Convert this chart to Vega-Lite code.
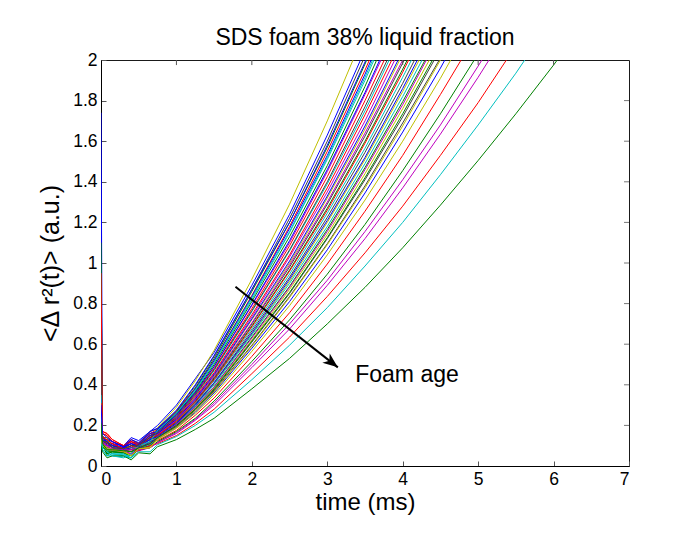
{
  "$schema": "https://vega.github.io/schema/vega-lite/v6.json",
  "width": 528,
  "height": 406,
  "autosize": "none",
  "padding": {"left": 101, "top": 60, "right": 60, "bottom": 91},
  "background": "white",
  "config": {
    "font": "Liberation Sans",
    "view": {"stroke": "#1a1a1a", "strokeWidth": 1},
    "axis": {"grid": false, "labelFont": "Liberation Sans", "titleFont": "Liberation Sans", "labelColor": "black", "titleColor": "black", "titleFontWeight": "normal", "labelFontSize": 17.5, "titleFontSize": 24, "domainColor": "black", "tickColor": "#555555", "tickSize": -5, "labelPadding": 9}
  },
  "title": {"text": "SDS foam 38% liquid fraction", "fontSize": 23, "fontWeight": "normal", "font": "Liberation Sans", "color": "black", "offset": 1, "anchor": "middle"},
  "datasets": {
    "curves": [
{"c":1,"t":0,"y":1.74},{"c":1,"t":0.02,"y":0.14},{"c":1,"t":0.15,"y":0.11},{"c":1,"t":0.3,"y":0.1},{"c":1,"t":0.5,"y":0.125},{"c":1,"t":0.75,"y":0.2},{"c":1,"t":1,"y":0.3},{"c":1,"t":1.25,"y":0.43},{"c":1,"t":1.5,"y":0.56},{"c":1,"t":2,"y":0.89},{"c":1,"t":2.5,"y":1.24},{"c":1,"t":3,"y":1.63},{"c":1,"t":3.5,"y":2.05},
{"c":2,"t":0,"y":0.22},{"c":2,"t":0.02,"y":0.12},{"c":2,"t":0.15,"y":0.09},{"c":2,"t":0.3,"y":0.07},{"c":2,"t":0.5,"y":0.11},{"c":2,"t":0.75,"y":0.18},{"c":2,"t":1,"y":0.265},{"c":2,"t":1.25,"y":0.385},{"c":2,"t":1.5,"y":0.53},{"c":2,"t":2,"y":0.86},{"c":2,"t":2.5,"y":1.2},{"c":2,"t":3,"y":1.57},{"c":2,"t":3.5,"y":1.98},{"c":2,"t":4,"y":2.42},
{"c":3,"t":0,"y":0.3},{"c":3,"t":0.02,"y":0.16},{"c":3,"t":0.15,"y":0.12},{"c":3,"t":0.3,"y":0.095},{"c":3,"t":0.5,"y":0.11},{"c":3,"t":0.75,"y":0.18},{"c":3,"t":1,"y":0.27},{"c":3,"t":1.25,"y":0.38},{"c":3,"t":1.5,"y":0.52},{"c":3,"t":2,"y":0.84},{"c":3,"t":2.5,"y":1.18},{"c":3,"t":3,"y":1.55},{"c":3,"t":3.5,"y":1.95},{"c":3,"t":4,"y":2.38},
{"c":4,"t":0,"y":0.83},{"c":4,"t":0.02,"y":0.1},{"c":4,"t":0.15,"y":0.07},{"c":4,"t":0.3,"y":0.06},{"c":4,"t":0.5,"y":0.1},{"c":4,"t":0.75,"y":0.175},{"c":4,"t":1,"y":0.255},{"c":4,"t":1.25,"y":0.37},{"c":4,"t":1.5,"y":0.51},{"c":4,"t":2,"y":0.82},{"c":4,"t":2.5,"y":1.15},{"c":4,"t":3,"y":1.51},{"c":4,"t":3.5,"y":1.9},{"c":4,"t":4,"y":2.32},
{"c":5,"t":0,"y":0.18},{"c":5,"t":0.02,"y":0.13},{"c":5,"t":0.15,"y":0.1},{"c":5,"t":0.3,"y":0.09},{"c":5,"t":0.5,"y":0.105},{"c":5,"t":0.75,"y":0.17},{"c":5,"t":1,"y":0.25},{"c":5,"t":1.25,"y":0.36},{"c":5,"t":1.5,"y":0.49},{"c":5,"t":2,"y":0.79},{"c":5,"t":2.5,"y":1.1},{"c":5,"t":3,"y":1.45},{"c":5,"t":3.5,"y":1.83},{"c":5,"t":4,"y":2.23},
{"c":6,"t":0,"y":0.12},{"c":6,"t":0.02,"y":0.11},{"c":6,"t":0.15,"y":0.09},{"c":6,"t":0.3,"y":0.085},{"c":6,"t":0.5,"y":0.115},{"c":6,"t":0.75,"y":0.19},{"c":6,"t":1,"y":0.29},{"c":6,"t":1.25,"y":0.42},{"c":6,"t":1.5,"y":0.57},{"c":6,"t":2,"y":0.92},{"c":6,"t":2.5,"y":1.29},{"c":6,"t":3,"y":1.7},{"c":6,"t":3.5,"y":2.14},
{"c":7,"t":0,"y":0.25},{"c":7,"t":0.02,"y":0.12},{"c":7,"t":0.15,"y":0.1},{"c":7,"t":0.3,"y":0.09},{"c":7,"t":0.5,"y":0.11},{"c":7,"t":0.75,"y":0.185},{"c":7,"t":1,"y":0.27},{"c":7,"t":1.25,"y":0.395},{"c":7,"t":1.5,"y":0.54},{"c":7,"t":2,"y":0.87},{"c":7,"t":2.5,"y":1.22},{"c":7,"t":3,"y":1.6},{"c":7,"t":3.5,"y":2.02},
{"c":8,"t":0,"y":1.03},{"c":8,"t":0.02,"y":0.15},{"c":8,"t":0.15,"y":0.11},{"c":8,"t":0.3,"y":0.08},{"c":8,"t":0.5,"y":0.11},{"c":8,"t":0.75,"y":0.18},{"c":8,"t":1,"y":0.26},{"c":8,"t":1.25,"y":0.38},{"c":8,"t":1.5,"y":0.52},{"c":8,"t":2,"y":0.835},{"c":8,"t":2.5,"y":1.17},{"c":8,"t":3,"y":1.53},{"c":8,"t":3.5,"y":1.93},{"c":8,"t":4,"y":2.36},
{"c":9,"t":0,"y":1.1},{"c":9,"t":0.02,"y":0.13},{"c":9,"t":0.15,"y":0.08},{"c":9,"t":0.3,"y":0.075},{"c":9,"t":0.5,"y":0.105},{"c":9,"t":0.75,"y":0.17},{"c":9,"t":1,"y":0.255},{"c":9,"t":1.25,"y":0.365},{"c":9,"t":1.5,"y":0.5},{"c":9,"t":2,"y":0.81},{"c":9,"t":2.5,"y":1.13},{"c":9,"t":3,"y":1.48},{"c":9,"t":3.5,"y":1.87},{"c":9,"t":4,"y":2.29},
{"c":10,"t":0,"y":0.95},{"c":10,"t":0.02,"y":0.17},{"c":10,"t":0.15,"y":0.13},{"c":10,"t":0.3,"y":0.1},{"c":10,"t":0.5,"y":0.11},{"c":10,"t":0.75,"y":0.165},{"c":10,"t":1,"y":0.245},{"c":10,"t":1.25,"y":0.355},{"c":10,"t":1.5,"y":0.48},{"c":10,"t":2,"y":0.775},{"c":10,"t":2.5,"y":1.085},{"c":10,"t":3,"y":1.425},{"c":10,"t":3.5,"y":1.8},{"c":10,"t":4,"y":2.19},
{"c":11,"t":0,"y":0.15},{"c":11,"t":0.02,"y":0.09},{"c":11,"t":0.15,"y":0.06},{"c":11,"t":0.3,"y":0.05},{"c":11,"t":0.5,"y":0.09},{"c":11,"t":0.75,"y":0.165},{"c":11,"t":1,"y":0.24},{"c":11,"t":1.25,"y":0.345},{"c":11,"t":1.5,"y":0.47},{"c":11,"t":2,"y":0.76},{"c":11,"t":2.5,"y":1.06},{"c":11,"t":3,"y":1.39},{"c":11,"t":3.5,"y":1.75},{"c":11,"t":4,"y":2.14},
{"c":12,"t":0,"y":0.2},{"c":12,"t":0.02,"y":0.12},{"c":12,"t":0.15,"y":0.09},{"c":12,"t":0.3,"y":0.08},{"c":12,"t":0.5,"y":0.1},{"c":12,"t":0.75,"y":0.16},{"c":12,"t":1,"y":0.235},{"c":12,"t":1.25,"y":0.335},{"c":12,"t":1.5,"y":0.455},{"c":12,"t":2,"y":0.735},{"c":12,"t":2.5,"y":1.03},{"c":12,"t":3,"y":1.35},{"c":12,"t":3.5,"y":1.7},{"c":12,"t":4,"y":2.08},
{"c":13,"t":0,"y":0.14},{"c":13,"t":0.02,"y":0.1},{"c":13,"t":0.15,"y":0.08},{"c":13,"t":0.3,"y":0.07},{"c":13,"t":0.5,"y":0.095},{"c":13,"t":0.75,"y":0.155},{"c":13,"t":1,"y":0.23},{"c":13,"t":1.25,"y":0.325},{"c":13,"t":1.5,"y":0.445},{"c":13,"t":2,"y":0.72},{"c":13,"t":2.5,"y":1.0},{"c":13,"t":3,"y":1.32},{"c":13,"t":3.5,"y":1.66},{"c":13,"t":4,"y":2.03},
{"c":14,"t":0,"y":0.28},{"c":14,"t":0.02,"y":0.14},{"c":14,"t":0.15,"y":0.1},{"c":14,"t":0.3,"y":0.085},{"c":14,"t":0.5,"y":0.1},{"c":14,"t":0.75,"y":0.155},{"c":14,"t":1,"y":0.225},{"c":14,"t":1.25,"y":0.32},{"c":14,"t":1.5,"y":0.435},{"c":14,"t":2,"y":0.7},{"c":14,"t":2.5,"y":0.98},{"c":14,"t":3,"y":1.29},{"c":14,"t":3.5,"y":1.625},{"c":14,"t":4,"y":1.985},{"c":14,"t":4.5,"y":2.37},
{"c":15,"t":0,"y":0.33},{"c":15,"t":0.02,"y":0.15},{"c":15,"t":0.15,"y":0.11},{"c":15,"t":0.3,"y":0.09},{"c":15,"t":0.5,"y":0.105},{"c":15,"t":0.75,"y":0.17},{"c":15,"t":1,"y":0.25},{"c":15,"t":1.25,"y":0.36},{"c":15,"t":1.5,"y":0.49},{"c":15,"t":2,"y":0.795},{"c":15,"t":2.5,"y":1.11},{"c":15,"t":3,"y":1.46},{"c":15,"t":3.5,"y":1.84},{"c":15,"t":4,"y":2.25},
{"c":16,"t":0,"y":0.16},{"c":16,"t":0.02,"y":0.11},{"c":16,"t":0.15,"y":0.07},{"c":16,"t":0.3,"y":0.065},{"c":16,"t":0.5,"y":0.095},{"c":16,"t":0.75,"y":0.15},{"c":16,"t":1,"y":0.22},{"c":16,"t":1.25,"y":0.315},{"c":16,"t":1.5,"y":0.43},{"c":16,"t":2,"y":0.69},{"c":16,"t":2.5,"y":0.965},{"c":16,"t":3,"y":1.27},{"c":16,"t":3.5,"y":1.6},{"c":16,"t":4,"y":1.955},{"c":16,"t":4.5,"y":2.33},
{"c":17,"t":0,"y":0.24},{"c":17,"t":0.02,"y":0.16},{"c":17,"t":0.15,"y":0.12},{"c":17,"t":0.3,"y":0.1},{"c":17,"t":0.5,"y":0.1},{"c":17,"t":0.75,"y":0.16},{"c":17,"t":1,"y":0.235},{"c":17,"t":1.25,"y":0.34},{"c":17,"t":1.5,"y":0.46},{"c":17,"t":2,"y":0.745},{"c":17,"t":2.5,"y":1.04},{"c":17,"t":3,"y":1.37},{"c":17,"t":3.5,"y":1.73},{"c":17,"t":4,"y":2.11},
{"c":18,"t":0,"y":0.35},{"c":18,"t":0.02,"y":0.08},{"c":18,"t":0.15,"y":0.05},{"c":18,"t":0.3,"y":0.045},{"c":18,"t":0.5,"y":0.085},{"c":18,"t":0.75,"y":0.15},{"c":18,"t":1,"y":0.215},{"c":18,"t":1.25,"y":0.31},{"c":18,"t":1.5,"y":0.42},{"c":18,"t":2,"y":0.675},{"c":18,"t":2.5,"y":0.945},{"c":18,"t":3,"y":1.245},{"c":18,"t":3.5,"y":1.565},{"c":18,"t":4,"y":1.915},{"c":18,"t":4.5,"y":2.28},
{"c":19,"t":0,"y":0.19},{"c":19,"t":0.02,"y":0.1},{"c":19,"t":0.15,"y":0.08},{"c":19,"t":0.3,"y":0.08},{"c":19,"t":0.5,"y":0.1},{"c":19,"t":0.75,"y":0.155},{"c":19,"t":1,"y":0.225},{"c":19,"t":1.25,"y":0.325},{"c":19,"t":1.5,"y":0.44},{"c":19,"t":2,"y":0.705},{"c":19,"t":2.5,"y":0.99},{"c":19,"t":3,"y":1.3},{"c":19,"t":3.5,"y":1.64},{"c":19,"t":4,"y":2.0},{"c":19,"t":4.5,"y":2.39},
{"c":20,"t":0,"y":0.13},{"c":20,"t":0.02,"y":0.12},{"c":20,"t":0.15,"y":0.09},{"c":20,"t":0.3,"y":0.08},{"c":20,"t":0.5,"y":0.09},{"c":20,"t":0.75,"y":0.145},{"c":20,"t":1,"y":0.21},{"c":20,"t":1.25,"y":0.3},{"c":20,"t":1.5,"y":0.405},{"c":20,"t":2,"y":0.65},{"c":20,"t":2.5,"y":0.91},{"c":20,"t":3,"y":1.2},{"c":20,"t":3.5,"y":1.51},{"c":20,"t":4,"y":1.845},{"c":20,"t":4.5,"y":2.2},
{"c":21,"t":0,"y":0.21},{"c":21,"t":0.02,"y":0.11},{"c":21,"t":0.15,"y":0.08},{"c":21,"t":0.3,"y":0.075},{"c":21,"t":0.5,"y":0.095},{"c":21,"t":0.75,"y":0.15},{"c":21,"t":1,"y":0.215},{"c":21,"t":1.25,"y":0.305},{"c":21,"t":1.5,"y":0.41},{"c":21,"t":2,"y":0.665},{"c":21,"t":2.5,"y":0.93},{"c":21,"t":3,"y":1.225},{"c":21,"t":3.5,"y":1.545},{"c":21,"t":4,"y":1.885},{"c":21,"t":4.5,"y":2.25},
{"c":22,"t":0,"y":0.26},{"c":22,"t":0.02,"y":0.13},{"c":22,"t":0.15,"y":0.12},{"c":22,"t":0.3,"y":0.095},{"c":22,"t":0.5,"y":0.1},{"c":22,"t":0.75,"y":0.16},{"c":22,"t":1,"y":0.23},{"c":22,"t":1.25,"y":0.33},{"c":22,"t":1.5,"y":0.45},{"c":22,"t":2,"y":0.725},{"c":22,"t":2.5,"y":1.01},{"c":22,"t":3,"y":1.33},{"c":22,"t":3.5,"y":1.675},{"c":22,"t":4,"y":2.045},
{"c":23,"t":0,"y":0.17},{"c":23,"t":0.02,"y":0.1},{"c":23,"t":0.15,"y":0.07},{"c":23,"t":0.3,"y":0.07},{"c":23,"t":0.5,"y":0.09},{"c":23,"t":0.75,"y":0.14},{"c":23,"t":1,"y":0.205},{"c":23,"t":1.25,"y":0.29},{"c":23,"t":1.5,"y":0.39},{"c":23,"t":2,"y":0.635},{"c":23,"t":2.5,"y":0.885},{"c":23,"t":3,"y":1.165},{"c":23,"t":3.5,"y":1.47},{"c":23,"t":4,"y":1.795},{"c":23,"t":4.5,"y":2.14},
{"c":24,"t":0,"y":0.29},{"c":24,"t":0.02,"y":0.15},{"c":24,"t":0.15,"y":0.11},{"c":24,"t":0.3,"y":0.085},{"c":24,"t":0.5,"y":0.08},{"c":24,"t":0.75,"y":0.125},{"c":24,"t":1,"y":0.175},{"c":24,"t":1.25,"y":0.25},{"c":24,"t":1.5,"y":0.335},{"c":24,"t":2,"y":0.54},{"c":24,"t":2.5,"y":0.755},{"c":24,"t":3,"y":0.995},{"c":24,"t":3.5,"y":1.255},{"c":24,"t":4,"y":1.53},{"c":24,"t":4.5,"y":1.83},{"c":24,"t":5,"y":2.14},
{"c":25,"t":0,"y":0.11},{"c":25,"t":0.02,"y":0.09},{"c":25,"t":0.15,"y":0.06},{"c":25,"t":0.3,"y":0.055},{"c":25,"t":0.5,"y":0.09},{"c":25,"t":0.75,"y":0.145},{"c":25,"t":1,"y":0.205},{"c":25,"t":1.25,"y":0.295},{"c":25,"t":1.5,"y":0.4},{"c":25,"t":2,"y":0.645},{"c":25,"t":2.5,"y":0.9},{"c":25,"t":3,"y":1.18},{"c":25,"t":3.5,"y":1.49},{"c":25,"t":4,"y":1.82},{"c":25,"t":4.5,"y":2.17},
{"c":26,"t":0,"y":0.18},{"c":26,"t":0.02,"y":0.11},{"c":26,"t":0.15,"y":0.08},{"c":26,"t":0.3,"y":0.07},{"c":26,"t":0.5,"y":0.075},{"c":26,"t":0.75,"y":0.115},{"c":26,"t":1,"y":0.165},{"c":26,"t":1.25,"y":0.23},{"c":26,"t":1.5,"y":0.31},{"c":26,"t":2,"y":0.5},{"c":26,"t":2.5,"y":0.7},{"c":26,"t":3,"y":0.915},{"c":26,"t":3.5,"y":1.155},{"c":26,"t":4,"y":1.41},{"c":26,"t":4.5,"y":1.68},{"c":26,"t":5,"y":1.97},{"c":26,"t":5.5,"y":2.27},
{"c":27,"t":0,"y":0.23},{"c":27,"t":0.02,"y":0.13},{"c":27,"t":0.15,"y":0.09},{"c":27,"t":0.3,"y":0.085},{"c":27,"t":0.5,"y":0.09},{"c":27,"t":0.75,"y":0.14},{"c":27,"t":1,"y":0.2},{"c":27,"t":1.25,"y":0.285},{"c":27,"t":1.5,"y":0.385},{"c":27,"t":2,"y":0.62},{"c":27,"t":2.5,"y":0.87},{"c":27,"t":3,"y":1.14},{"c":27,"t":3.5,"y":1.44},{"c":27,"t":4,"y":1.76},{"c":27,"t":4.5,"y":2.1},
{"c":28,"t":0,"y":0.2},{"c":28,"t":0.02,"y":0.12},{"c":28,"t":0.15,"y":0.1},{"c":28,"t":0.3,"y":0.08},{"c":28,"t":0.5,"y":0.085},{"c":28,"t":0.75,"y":0.135},{"c":28,"t":1,"y":0.195},{"c":28,"t":1.25,"y":0.275},{"c":28,"t":1.5,"y":0.37},{"c":28,"t":2,"y":0.595},{"c":28,"t":2.5,"y":0.835},{"c":28,"t":3,"y":1.095},{"c":28,"t":3.5,"y":1.38},{"c":28,"t":4,"y":1.69},{"c":28,"t":4.5,"y":2.01},
{"c":29,"t":0,"y":0.27},{"c":29,"t":0.02,"y":0.14},{"c":29,"t":0.15,"y":0.1},{"c":29,"t":0.3,"y":0.09},{"c":29,"t":0.5,"y":0.095},{"c":29,"t":0.75,"y":0.145},{"c":29,"t":1,"y":0.21},{"c":29,"t":1.25,"y":0.3},{"c":29,"t":1.5,"y":0.41},{"c":29,"t":2,"y":0.655},{"c":29,"t":2.5,"y":0.92},{"c":29,"t":3,"y":1.21},{"c":29,"t":3.5,"y":1.52},{"c":29,"t":4,"y":1.86},{"c":29,"t":4.5,"y":2.22},
{"c":30,"t":0,"y":0.15},{"c":30,"t":0.02,"y":0.1},{"c":30,"t":0.15,"y":0.07},{"c":30,"t":0.3,"y":0.065},{"c":30,"t":0.5,"y":0.08},{"c":30,"t":0.75,"y":0.12},{"c":30,"t":1,"y":0.17},{"c":30,"t":1.25,"y":0.235},{"c":30,"t":1.5,"y":0.32},{"c":30,"t":2,"y":0.515},{"c":30,"t":2.5,"y":0.72},{"c":30,"t":3,"y":0.945},{"c":30,"t":3.5,"y":1.19},{"c":30,"t":4,"y":1.455},{"c":30,"t":4.5,"y":1.735},{"c":30,"t":5,"y":2.03},
{"c":31,"t":0,"y":0.22},{"c":31,"t":0.02,"y":0.14},{"c":31,"t":0.15,"y":0.11},{"c":31,"t":0.3,"y":0.085},{"c":31,"t":0.5,"y":0.075},{"c":31,"t":0.75,"y":0.11},{"c":31,"t":1,"y":0.15},{"c":31,"t":1.25,"y":0.21},{"c":31,"t":1.5,"y":0.28},{"c":31,"t":2,"y":0.455},{"c":31,"t":2.5,"y":0.635},{"c":31,"t":3,"y":0.835},{"c":31,"t":3.5,"y":1.05},{"c":31,"t":4,"y":1.28},{"c":31,"t":4.5,"y":1.53},{"c":31,"t":5,"y":1.79},{"c":31,"t":5.5,"y":2.07},
{"c":32,"t":0,"y":0.12},{"c":32,"t":0.02,"y":0.08},{"c":32,"t":0.15,"y":0.06},{"c":32,"t":0.3,"y":0.06},{"c":32,"t":0.5,"y":0.07},{"c":32,"t":0.75,"y":0.105},{"c":32,"t":1,"y":0.145},{"c":32,"t":1.25,"y":0.2},{"c":32,"t":1.5,"y":0.265},{"c":32,"t":2,"y":0.425},{"c":32,"t":2.5,"y":0.595},{"c":32,"t":3,"y":0.78},{"c":32,"t":3.5,"y":0.985},{"c":32,"t":4,"y":1.2},{"c":32,"t":4.5,"y":1.435},{"c":32,"t":5,"y":1.68},{"c":32,"t":5.5,"y":1.935},{"c":32,"t":6,"y":2.21},
{"c":33,"t":0,"y":0.16},{"c":33,"t":0.02,"y":0.11},{"c":33,"t":0.15,"y":0.08},{"c":33,"t":0.3,"y":0.075},{"c":33,"t":0.5,"y":0.08},{"c":33,"t":0.75,"y":0.115},{"c":33,"t":1,"y":0.16},{"c":33,"t":1.25,"y":0.225},{"c":33,"t":1.5,"y":0.3},{"c":33,"t":2,"y":0.485},{"c":33,"t":2.5,"y":0.675},{"c":33,"t":3,"y":0.89},{"c":33,"t":3.5,"y":1.12},{"c":33,"t":4,"y":1.37},{"c":33,"t":4.5,"y":1.635},{"c":33,"t":5,"y":1.915},{"c":33,"t":5.5,"y":2.21},
{"c":34,"t":0,"y":0.14},{"c":34,"t":0.02,"y":0.1},{"c":34,"t":0.15,"y":0.08},{"c":34,"t":0.3,"y":0.07},{"c":34,"t":0.5,"y":0.085},{"c":34,"t":0.75,"y":0.13},{"c":34,"t":1,"y":0.185},{"c":34,"t":1.25,"y":0.26},{"c":34,"t":1.5,"y":0.35},{"c":34,"t":2,"y":0.565},{"c":34,"t":2.5,"y":0.79},{"c":34,"t":3,"y":1.04},{"c":34,"t":3.5,"y":1.31},{"c":34,"t":4,"y":1.6},{"c":34,"t":4.5,"y":1.91},{"c":34,"t":5,"y":2.24},
{"c":35,"t":0,"y":0.19},{"c":35,"t":0.02,"y":0.12},{"c":35,"t":0.15,"y":0.09},{"c":35,"t":0.3,"y":0.08},{"c":35,"t":0.5,"y":0.09},{"c":35,"t":0.75,"y":0.14},{"c":35,"t":1,"y":0.195},{"c":35,"t":1.25,"y":0.28},{"c":35,"t":1.5,"y":0.375},{"c":35,"t":2,"y":0.61},{"c":35,"t":2.5,"y":0.85},{"c":35,"t":3,"y":1.12},{"c":35,"t":3.5,"y":1.41},{"c":35,"t":4,"y":1.72},{"c":35,"t":4.5,"y":2.055},
{"c":36,"t":0,"y":0.24},{"c":36,"t":0.02,"y":0.13},{"c":36,"t":0.15,"y":0.09},{"c":36,"t":0.3,"y":0.08},{"c":36,"t":0.5,"y":0.085},{"c":36,"t":0.75,"y":0.135},{"c":36,"t":1,"y":0.19},{"c":36,"t":1.25,"y":0.265},{"c":36,"t":1.5,"y":0.36},{"c":36,"t":2,"y":0.58},{"c":36,"t":2.5,"y":0.81},{"c":36,"t":3,"y":1.065},{"c":36,"t":3.5,"y":1.345},{"c":36,"t":4,"y":1.645},{"c":36,"t":4.5,"y":1.96},{"c":36,"t":5,"y":2.3},
{"c":37,"t":0,"y":0.1},{"c":37,"t":0.02,"y":0.07},{"c":37,"t":0.15,"y":0.05},{"c":37,"t":0.3,"y":0.05},{"c":37,"t":0.5,"y":0.065},{"c":37,"t":0.75,"y":0.095},{"c":37,"t":1,"y":0.13},{"c":37,"t":1.25,"y":0.18},{"c":37,"t":1.5,"y":0.235},{"c":37,"t":2,"y":0.38},{"c":37,"t":2.5,"y":0.53},{"c":37,"t":3,"y":0.7},{"c":37,"t":3.5,"y":0.88},{"c":37,"t":4,"y":1.075},{"c":37,"t":4.5,"y":1.285},{"c":37,"t":5,"y":1.505},{"c":37,"t":5.5,"y":1.735},{"c":37,"t":6,"y":1.975},{"c":37,"t":6.5,"y":2.23},
{"c":38,"t":0,"y":0.31},{"c":38,"t":0.02,"y":0.17},{"c":38,"t":0.15,"y":0.13},{"c":38,"t":0.3,"y":0.1},{"c":38,"t":0.5,"y":0.1},{"c":38,"t":0.75,"y":0.15},{"c":38,"t":1,"y":0.22},{"c":38,"t":1.25,"y":0.315},{"c":38,"t":1.5,"y":0.425},{"c":38,"t":2,"y":0.685},{"c":38,"t":2.5,"y":0.96},{"c":38,"t":3,"y":1.26},{"c":38,"t":3.5,"y":1.59},{"c":38,"t":4,"y":1.94},{"c":38,"t":4.5,"y":2.32},
{"c":39,"t":0,"y":0.26},{"c":39,"t":0.02,"y":0.09},{"c":39,"t":0.15,"y":0.05},{"c":39,"t":0.3,"y":0.04},{"c":39,"t":0.5,"y":0.1},{"c":39,"t":0.75,"y":0.175},{"c":39,"t":1,"y":0.26},{"c":39,"t":1.25,"y":0.375},{"c":39,"t":1.5,"y":0.51},{"c":39,"t":2,"y":0.83},{"c":39,"t":2.5,"y":1.155},{"c":39,"t":3,"y":1.52},{"c":39,"t":3.5,"y":1.915},{"c":39,"t":4,"y":2.34},
{"c":40,"t":0,"y":0.17},{"c":40,"t":0.02,"y":0.12},{"c":40,"t":0.15,"y":0.09},{"c":40,"t":0.3,"y":0.08},{"c":40,"t":0.5,"y":0.09},{"c":40,"t":0.75,"y":0.14},{"c":40,"t":1,"y":0.205},{"c":40,"t":1.25,"y":0.29},{"c":40,"t":1.5,"y":0.39},{"c":40,"t":2,"y":0.63},{"c":40,"t":2.5,"y":0.88},{"c":40,"t":3,"y":1.155},{"c":40,"t":3.5,"y":1.46},{"c":40,"t":4,"y":1.78},{"c":40,"t":4.5,"y":2.13},
{"c":41,"t":0,"y":0.13},{"c":41,"t":0.02,"y":0.11},{"c":41,"t":0.15,"y":0.08},{"c":41,"t":0.3,"y":0.075},{"c":41,"t":0.5,"y":0.085},{"c":41,"t":0.75,"y":0.135},{"c":41,"t":1,"y":0.19},{"c":41,"t":1.25,"y":0.27},{"c":41,"t":1.5,"y":0.365},{"c":41,"t":2,"y":0.59},{"c":41,"t":2.5,"y":0.83},{"c":41,"t":3,"y":1.09},{"c":41,"t":3.5,"y":1.37},{"c":41,"t":4,"y":1.675},{"c":41,"t":4.5,"y":2.0},{"c":41,"t":5,"y":2.34},
{"c":42,"t":0,"y":0.22},{"c":42,"t":0.02,"y":0.12},{"c":42,"t":0.15,"y":0.09},{"c":42,"t":0.3,"y":0.085},{"c":42,"t":0.5,"y":0.1},{"c":42,"t":0.75,"y":0.165},{"c":42,"t":1,"y":0.24},{"c":42,"t":1.25,"y":0.35},{"c":42,"t":1.5,"y":0.475},{"c":42,"t":2,"y":0.765},{"c":42,"t":2.5,"y":1.065},{"c":42,"t":3,"y":1.4},{"c":42,"t":3.5,"y":1.77},{"c":42,"t":4,"y":2.16},
{"c":43,"t":0,"y":0.3},{"c":43,"t":0.02,"y":0.16},{"c":43,"t":0.15,"y":0.12},{"c":43,"t":0.3,"y":0.095},{"c":43,"t":0.5,"y":0.115},{"c":43,"t":0.75,"y":0.185},{"c":43,"t":1,"y":0.275},{"c":43,"t":1.25,"y":0.4},{"c":43,"t":1.5,"y":0.545},{"c":43,"t":2,"y":0.87},{"c":43,"t":2.5,"y":1.2},{"c":43,"t":3,"y":1.58},{"c":43,"t":3.5,"y":1.99},{"c":43,"t":4,"y":2.43},
{"c":44,"t":0,"y":0.21},{"c":44,"t":0.02,"y":0.11},{"c":44,"t":0.15,"y":0.08},{"c":44,"t":0.3,"y":0.075},{"c":44,"t":0.5,"y":0.09},{"c":44,"t":0.75,"y":0.14},{"c":44,"t":1,"y":0.2},{"c":44,"t":1.25,"y":0.28},{"c":44,"t":1.5,"y":0.38},{"c":44,"t":2,"y":0.615},{"c":44,"t":2.5,"y":0.855},{"c":44,"t":3,"y":1.125},{"c":44,"t":3.5,"y":1.42},{"c":44,"t":4,"y":1.735},{"c":44,"t":4.5,"y":2.07},
{"c":1,"t":0.08,"y":0.12},{"c":2,"t":0.08,"y":0.06},{"c":3,"t":0.08,"y":0.15},{"c":4,"t":0.08,"y":0.09},{"c":5,"t":0.08,"y":0.11},{"c":6,"t":0.08,"y":0.07},{"c":7,"t":0.08,"y":0.13},{"c":8,"t":0.08,"y":0.1},{"c":9,"t":0.08,"y":0.05},{"c":10,"t":0.08,"y":0.16},{"c":11,"t":0.08,"y":0.08},
{"c":12,"t":0.08,"y":0.12},{"c":13,"t":0.08,"y":0.06},{"c":14,"t":0.08,"y":0.14},{"c":15,"t":0.08,"y":0.1},{"c":16,"t":0.08,"y":0.07},{"c":17,"t":0.08,"y":0.15},{"c":18,"t":0.08,"y":0.05},{"c":19,"t":0.08,"y":0.09},{"c":20,"t":0.08,"y":0.12},{"c":21,"t":0.08,"y":0.08},{"c":22,"t":0.08,"y":0.13},
{"c":23,"t":0.08,"y":0.06},{"c":24,"t":0.08,"y":0.11},{"c":25,"t":0.08,"y":0.07},{"c":26,"t":0.08,"y":0.1},{"c":27,"t":0.08,"y":0.14},{"c":28,"t":0.08,"y":0.09},{"c":29,"t":0.08,"y":0.12},{"c":30,"t":0.08,"y":0.06},{"c":31,"t":0.08,"y":0.13},{"c":32,"t":0.08,"y":0.05},{"c":33,"t":0.08,"y":0.1},
{"c":34,"t":0.08,"y":0.08},{"c":35,"t":0.08,"y":0.11},{"c":36,"t":0.08,"y":0.12},{"c":37,"t":0.08,"y":0.04},{"c":38,"t":0.08,"y":0.16},{"c":39,"t":0.08,"y":0.07},{"c":40,"t":0.08,"y":0.1},{"c":41,"t":0.08,"y":0.09},{"c":42,"t":0.08,"y":0.12},{"c":43,"t":0.08,"y":0.14},{"c":44,"t":0.08,"y":0.08},
{"c":1,"t":0.4,"y":0.14},{"c":2,"t":0.4,"y":0.06},{"c":3,"t":0.4,"y":0.12},{"c":4,"t":0.4,"y":0.05},{"c":5,"t":0.4,"y":0.11},{"c":6,"t":0.4,"y":0.08},{"c":7,"t":0.4,"y":0.13},{"c":8,"t":0.4,"y":0.07},{"c":9,"t":0.4,"y":0.1},{"c":10,"t":0.4,"y":0.13},{"c":11,"t":0.4,"y":0.04},
{"c":12,"t":0.4,"y":0.09},{"c":13,"t":0.4,"y":0.06},{"c":14,"t":0.4,"y":0.11},{"c":15,"t":0.4,"y":0.12},{"c":16,"t":0.4,"y":0.05},{"c":17,"t":0.4,"y":0.12},{"c":18,"t":0.4,"y":0.04},{"c":19,"t":0.4,"y":0.09},{"c":20,"t":0.4,"y":0.07},{"c":21,"t":0.4,"y":0.1},{"c":22,"t":0.4,"y":0.11},
{"c":23,"t":0.4,"y":0.05},{"c":24,"t":0.4,"y":0.1},{"c":25,"t":0.4,"y":0.04},{"c":26,"t":0.4,"y":0.06},{"c":27,"t":0.4,"y":0.09},{"c":28,"t":0.4,"y":0.07},{"c":29,"t":0.4,"y":0.11},{"c":30,"t":0.4,"y":0.05},{"c":31,"t":0.4,"y":0.08},{"c":32,"t":0.4,"y":0.04},{"c":33,"t":0.4,"y":0.06},
{"c":34,"t":0.4,"y":0.05},{"c":35,"t":0.4,"y":0.08},{"c":36,"t":0.4,"y":0.09},{"c":37,"t":0.4,"y":0.03},{"c":38,"t":0.4,"y":0.12},{"c":39,"t":0.4,"y":0.06},{"c":40,"t":0.4,"y":0.08},{"c":41,"t":0.4,"y":0.05},{"c":42,"t":0.4,"y":0.1},{"c":43,"t":0.4,"y":0.13},{"c":44,"t":0.4,"y":0.07},
{"c":1,"t":0.65,"y":0.17},{"c":2,"t":0.65,"y":0.13},{"c":3,"t":0.65,"y":0.16},{"c":4,"t":0.65,"y":0.12},{"c":5,"t":0.65,"y":0.15},{"c":6,"t":0.65,"y":0.14},{"c":7,"t":0.65,"y":0.17},{"c":8,"t":0.65,"y":0.13},{"c":9,"t":0.65,"y":0.15},{"c":10,"t":0.65,"y":0.16},{"c":11,"t":0.65,"y":0.11},
{"c":12,"t":0.65,"y":0.14},{"c":13,"t":0.65,"y":0.12},{"c":14,"t":0.65,"y":0.14},{"c":15,"t":0.65,"y":0.16},{"c":16,"t":0.65,"y":0.11},{"c":17,"t":0.65,"y":0.15},{"c":18,"t":0.65,"y":0.1},{"c":19,"t":0.65,"y":0.13},{"c":20,"t":0.65,"y":0.11},{"c":21,"t":0.65,"y":0.13},{"c":22,"t":0.65,"y":0.15},
{"c":23,"t":0.65,"y":0.1},{"c":24,"t":0.65,"y":0.12},{"c":25,"t":0.65,"y":0.1},{"c":26,"t":0.65,"y":0.09},{"c":27,"t":0.65,"y":0.12},{"c":28,"t":0.65,"y":0.1},{"c":29,"t":0.65,"y":0.13},{"c":30,"t":0.65,"y":0.09},{"c":31,"t":0.65,"y":0.1},{"c":32,"t":0.65,"y":0.07},{"c":33,"t":0.65,"y":0.09},
{"c":34,"t":0.65,"y":0.09},{"c":35,"t":0.65,"y":0.11},{"c":36,"t":0.65,"y":0.12},{"c":37,"t":0.65,"y":0.06},{"c":38,"t":0.65,"y":0.14},{"c":39,"t":0.65,"y":0.12},{"c":40,"t":0.65,"y":0.11},{"c":41,"t":0.65,"y":0.09},{"c":42,"t":0.65,"y":0.14},{"c":43,"t":0.65,"y":0.17},{"c":44,"t":0.65,"y":0.11}
    ]
  },
  "layer": [
    {
      "data": {"name": "curves"},
      "mark": {"type": "line", "strokeWidth": 1, "clip": true},
      "encoding": {
        "x": {"field": "t", "type": "quantitative", "scale": {"domain": [0, 7], "nice": false, "zero": false, "padding": 0},
              "axis": {"orient": "bottom", "title": "time (ms)", "values": [0,1,2,3,4,5,6,7], "format": "~g", "titlePadding": 3}},
        "y": {"field": "y", "type": "quantitative", "scale": {"domain": [0, 2], "nice": false, "zero": false, "padding": 0},
              "axis": {"orient": "left", "title": "<Δ r²(t)> (a.u.)", "titleFontSize": 25, "values": [0,0.2,0.4,0.6,0.8,1,1.2,1.4,1.6,1.8,2], "format": "~g", "titlePadding": 9}},
        "color": {"field": "c", "type": "nominal", "legend": null,
                  "scale": {"domain": [1,2,3,4,5,6,7,8,9,10,11,12,13,14,15,16,17,18,19,20,21,22,23,24,25,26,27,28,29,30,31,32,33,34,35,36,37,38,39,40,41,42,43,44],
                            "range": ["#0000ff","#008000","#ff0000","#00bfbf","#bf00bf","#bfbf00","#404040"]}}
      }
    },
    {
      "data": {"values": [{"t": 1}, {"t": 2}, {"t": 3}, {"t": 4}, {"t": 5}, {"t": 6}]},
      "mark": {"type": "rule", "strokeWidth": 1, "color": "#555555"},
      "encoding": {
        "x": {"field": "t", "type": "quantitative", "scale": {"domain": [0, 7], "nice": false, "zero": false, "padding": 0}},
        "y": {"datum": 2, "scale": {"domain": [0, 2], "nice": false, "zero": false, "padding": 0}},
        "y2": {"datum": 1.975}
      }
    },
    {
      "data": {"values": [{"y": 0.2}, {"y": 0.4}, {"y": 0.6}, {"y": 0.8}, {"y": 1}, {"y": 1.2}, {"y": 1.4}, {"y": 1.6}, {"y": 1.8}]},
      "mark": {"type": "rule", "strokeWidth": 1, "color": "#777777"},
      "encoding": {
        "y": {"field": "y", "type": "quantitative", "scale": {"domain": [0, 2], "nice": false, "zero": false, "padding": 0}},
        "x": {"datum": 7, "scale": {"domain": [0, 7], "nice": false, "zero": false, "padding": 0}},
        "x2": {"datum": 6.934}
      }
    },
    {
      "mark": {"type": "rule", "strokeWidth": 2, "color": "#909090"},
      "encoding": {"y": {"datum": 2, "scale": {"domain": [0, 2], "nice": false, "zero": false, "padding": 0}}}
    },
    {
      "data": {"values": [{"t": 1.783, "y": 0.883, "t2": 3.14, "y2": 0.486}]},
      "mark": {"type": "rule", "strokeWidth": 2, "color": "black"},
      "encoding": {
        "x": {"field": "t", "type": "quantitative", "scale": {"domain": [0, 7], "nice": false, "zero": false, "padding": 0}},
        "y": {"field": "y", "type": "quantitative", "scale": {"domain": [0, 2], "nice": false, "zero": false, "padding": 0}},
        "x2": {"field": "t2"},
        "y2": {"field": "y2"}
      }
    },
    {
      "data": {"values": [{"t": 3.14, "y": 0.486}]},
      "mark": {"type": "point", "shape": "M0,0L-1,-0.4L-0.72,0L-1,0.4Z", "filled": true, "color": "black", "opacity": 1, "size": 900, "angle": 38, "strokeWidth": 0},
      "encoding": {
        "x": {"field": "t", "type": "quantitative", "scale": {"domain": [0, 7], "nice": false, "zero": false, "padding": 0}},
        "y": {"field": "y", "type": "quantitative", "scale": {"domain": [0, 2], "nice": false, "zero": false, "padding": 0}}
      }
    },
    {
      "data": {"values": [{"t": 3.37, "y": 0.45, "label": "Foam age"}]},
      "mark": {"type": "text", "align": "left", "baseline": "middle", "fontSize": 23, "font": "Liberation Sans", "color": "black"},
      "encoding": {
        "x": {"field": "t", "type": "quantitative", "scale": {"domain": [0, 7], "nice": false, "zero": false, "padding": 0}},
        "y": {"field": "y", "type": "quantitative", "scale": {"domain": [0, 2], "nice": false, "zero": false, "padding": 0}},
        "text": {"field": "label"}
      }
    }
  ]
}
